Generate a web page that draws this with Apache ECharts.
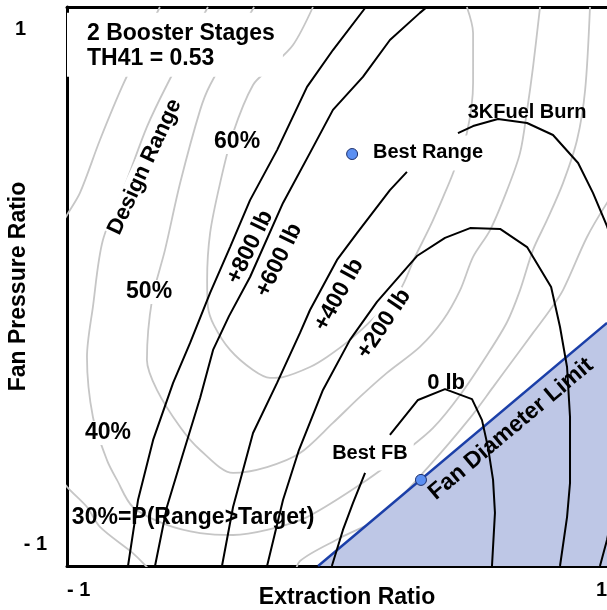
<!DOCTYPE html>
<html><head><meta charset="utf-8">
<script src="https://cdn.jsdelivr.net/npm/echarts@6/dist/echarts.min.js"></script>
<style>html,body{margin:0;padding:0;background:#fff}#c{width:607px;height:610px}</style>
</head><body><div id="c"></div>
<script>
// ---------- axis ticks ----------
const xTickLabels = {'-1': '- 1', '1': '1'};
const yTickLabels = {'-1': '{bot|- 1}', '1': '{top|1}'};

// ---------- fuel burn contours (black) ----------
const fuel800X = [-0.774,-0.737,-0.681,-0.607,-0.544,-0.470,-0.396,-0.322,-0.222,-0.111,-0.015,0.107];
const fuel800Y = [-1,-0.764,-0.549,-0.345,-0.202,-0.023,0.141,0.309,0.488,0.714,0.846,1];
const fuel600X = [-0.674,-0.630,-0.574,-0.507,-0.459,-0.400,-0.322,-0.200,-0.100,-0.015,0.096,0.196,0.307,0.333];
const fuel600Y = [-1,-0.789,-0.610,-0.399,-0.227,-0.106,0.034,0.299,0.478,0.632,0.750,0.882,0.979,1];
const fuel400aX = [-0.426,-0.385,-0.311,-0.222,-0.137,-0.100,0,0.074,0.196,0.259];
const fuel400aY = [-1,-0.789,-0.524,-0.345,-0.166,-0.084,0.095,0.191,0.345,0.410];
const fuel400bX = [0.448,0.504,0.596,0.704,0.800,0.893,0.948,1.0,1.037,1.067,1.056,1.030,1.0,0.974];
const fuel400bY = [0.549,0.574,0.599,0.585,0.542,0.442,0.335,0.216,0.113,-0.156,-0.478,-0.764,-0.907,-1];
const fuel200X = [-0.259,-0.200,-0.141,-0.052,0.048,0.148,0.296,0.400,0.493,0.604,0.704,0.793,0.826,0.852,0.863,0.863,0.852,0.826];
const fuel200Y = [-1,-0.764,-0.585,-0.370,-0.191,-0.055,0.109,0.174,0.209,0.206,0.141,-0.002,-0.145,-0.288,-0.467,-0.703,-0.825,-1];
const fuel0aX = [-0.019,0.022,0.059,0.104];
const fuel0aY = [-1,-0.871,-0.775,-0.667];
const fuel0bX = [0.196,0.300,0.400,0.500,0.537,0.559,0.578,0.585,0.574];
const fuel0bY = [-0.531,-0.406,-0.367,-0.403,-0.478,-0.574,-0.692,-0.810,-1];

// ---------- P(Range>Target) contours (gray) ----------
const p30aX = [-0.656,-0.793,-0.878,-0.952,-1,-1.044];
const p30aY = [1.0,0.721,0.524,0.335,0.256,0.177];
const p30bX = [-1.044,-1,-0.926,-0.878,-0.756,-0.704,-0.674];
const p30bY = [-0.657,-0.717,-0.789,-0.860,-0.954,-1.004,-1.036];
const p30cX = [-0.156,-0.137,0.011,0.159,0.344,0.493,0.578,0.652,0.726,0.789,0.837,0.926,1.0,1.048];
const p30cY = [-1.036,-0.982,-0.900,-0.825,-0.639,-0.470,-0.360,-0.263,-0.166,-0.084,-0.013,0.177,0.299,0.363];
const p40X = [-0.478,-0.630,-0.704,-0.778,-0.867,-0.904,-0.926,-0.904,-0.852,-0.815,-0.756,-0.630,-0.507,-0.385,-0.259,-0.111,0.111,0.259,0.356,0.456,0.556,0.630,0.678,0.726,0.778,0.837,0.889,0.919,0.937];
const p40Y = [1.0,0.721,0.571,0.381,0.166,-0.073,-0.252,-0.467,-0.621,-0.692,-0.789,-0.853,-0.882,-0.889,-0.871,-0.825,-0.692,-0.585,-0.506,-0.388,-0.245,-0.127,-0.013,0.131,0.238,0.370,0.524,0.703,1.0];
const p50X = [-0.307,-0.470,-0.507,-0.581,-0.637,-0.685,-0.704,-0.667,-0.581,-0.507,-0.385,-0.259,-0.137,-0.015,0.085,0.185,0.307,0.393,0.456,0.504,0.567,0.630,0.678,0.704,0.726,0.752];
const p50Y = [1.0,0.721,0.631,0.370,0.131,-0.048,-0.263,-0.370,-0.503,-0.585,-0.667,-0.646,-0.596,-0.488,-0.395,-0.309,-0.216,-0.120,-0.013,0.106,0.202,0.345,0.478,0.631,0.785,1.0];
const p60X = [-0.089,-0.163,-0.248,-0.311,-0.385,-0.433,-0.470,-0.481,-0.478,-0.456,-0.396,-0.311,-0.248,-0.200,-0.100,-0.037,0.048,0.141,0.233,0.289,0.344,0.393,0.430,0.481,0.504,0.504,0.481];
const p60Y = [1.0,0.864,0.782,0.721,0.549,0.370,0.191,0.023,-0.073,-0.138,-0.227,-0.299,-0.327,-0.324,-0.288,-0.252,-0.191,-0.109,-0.013,0.106,0.213,0.320,0.406,0.549,0.728,0.907,1.0];

// ---------- fan diameter limit ----------
const limitX = [-0.07, 1];
const limitY = [-1, -0.13];

// ---------- optimum points ----------
const bestNames = ['Best Range', 'Best FB'];
const bestX = [0.056, 0.311];
const bestY = [0.474, -0.692];

// ---------- annotations ----------
const annotations = [
  {text: '2 Booster Stages\nTH41 = 0.53', x: -1, y: 0.979, rotate: 0, size: 23, bg: true, align: 'left', vAlign: 'top', padding: [8, 8, 6, 20], lineHeight: 25},
  {text: 'Design Range', x: -0.712, y: 0.428, rotate: 65, size: 22, bg: true},
  {text: '60%', x: -0.370, y: 0.517, rotate: 0, size: 23, bg: true},
  {text: '50%', x: -0.696, y: -0.020, rotate: 0, size: 23, bg: true},
  {text: '40%', x: -0.848, y: -0.524, rotate: 0, size: 23, bg: true},
  {text: '30%=P(Range>Target)', x: -0.533, y: -0.828, rotate: 0, size: 23, bg: false},
  {text: '+800 lb', x: -0.322, y: 0.141, rotate: 64, size: 23, bg: false},
  {text: '+600 lb', x: -0.215, y: 0.094, rotate: 64, size: 23, bg: false},
  {text: '+400 lb', x: 0.007, y: -0.030, rotate: 61, size: 23, bg: false},
  {text: '+200 lb', x: 0.174, y: -0.134, rotate: 56, size: 23, bg: true},
  {text: '0 lb', x: 0.404, y: -0.345, rotate: 0, size: 22, bg: false},
  {text: '3KFuel Burn', x: 0.704, y: 0.624, rotate: 0, size: 20, bg: false},
  {text: 'Best Range', x: 0.337, y: 0.478, rotate: 0, size: 20, bg: true, padding: [7, 4]},
  {text: 'Best FB', x: 0.122, y: -0.599, rotate: 0, size: 20, bg: true, padding: [6, 6]},
  {text: 'Fan Diameter Limit', x: 0.644, y: -0.510, rotate: 40, size: 23, bg: false}
];

const FONT = "'Liberation Sans', Arial, Helvetica, sans-serif";
const zip = (xs, ys) => xs.map((x, i) => [x, ys[i]]);

function contour(name, xs, ys, color, z, smooth, width) {
  return {
    name: name, type: 'line', data: zip(xs, ys), z: z,
    symbol: 'none', showSymbol: false, smooth: smooth, silent: true,
    lineStyle: {color: color, width: width},
    emphasis: {disabled: true}, clip: true
  };
}

const GRAY = '#c6c6c6';
const series = [
  contour('30% a', p30aX, p30aY, GRAY, 1, 0.3, 1.8),
  contour('30% b', p30bX, p30bY, GRAY, 1, 0.3, 1.8),
  contour('30% c', p30cX, p30cY, GRAY, 1, 0.3, 1.8),
  contour('40%', p40X, p40Y, GRAY, 1, 0.3, 1.8),
  contour('50%', p50X, p50Y, GRAY, 1, 0.3, 1.8),
  contour('60%', p60X, p60Y, GRAY, 1, 0.3, 1.8),
  {
    name: 'Fan Diameter Limit', type: 'line', data: zip(limitX, limitY), z: 2,
    symbol: 'none', silent: true,
    lineStyle: {color: '#1b3fa8', width: 2.5},
    areaStyle: {color: '#bec7e6', opacity: 1, origin: 'start'},
    emphasis: {disabled: true}
  },
  {
    name: 'annotations', type: 'scatter', z: 3, silent: true,
    symbolSize: 1, itemStyle: {color: 'rgba(0,0,0,0)', opacity: 1},
    emphasis: {disabled: true},
    data: annotations.map(a => ({
      value: [a.x, a.y],
      label: {
        show: true, position: 'inside', formatter: a.text,
        rotate: a.rotate, fontSize: a.size, fontWeight: 'bold', fontFamily: FONT,
        color: '#000', opacity: 1,
        align: a.align || 'center', verticalAlign: a.vAlign || 'middle',
        lineHeight: a.lineHeight || Math.round(a.size * 1.05),
        backgroundColor: a.bg ? '#ffffff' : 'transparent',
        padding: a.padding || [0, 1]
      }
    }))
  },
  contour('+800 lb', fuel800X, fuel800Y, '#000', 4, false, 2),
  contour('+600 lb', fuel600X, fuel600Y, '#000', 4, false, 2),
  contour('+400 lb', fuel400aX, fuel400aY, '#000', 4, false, 2),
  contour('+400 lb b', fuel400bX, fuel400bY, '#000', 4, false, 2),
  contour('+200 lb', fuel200X, fuel200Y, '#000', 4, false, 2),
  contour('0 lb a', fuel0aX, fuel0aY, '#000', 4, false, 2),
  contour('0 lb b', fuel0bX, fuel0bY, '#000', 4, false, 2),
  {
    name: 'best', type: 'scatter', z: 5, silent: true,
    data: bestNames.map((n, i) => ({name: n, value: [bestX[i], bestY[i]]})),
    symbol: 'circle', symbolSize: 11,
    itemStyle: {color: '#5b8ff2', borderColor: '#1d2f6b', borderWidth: 1, opacity: 1},
    emphasis: {disabled: true}
  }
];

const labelStyle = {fontSize: 20, fontWeight: 'bold', color: '#000', fontFamily: FONT};
const option = {
  animation: false,
  backgroundColor: '#fff',
  grid: {left: 67, right: 0, top: 7, bottom: 44, containLabel: false, outerBoundsMode: 'none'},
  xAxis: [{
    type: 'value', min: -1, max: 1, interval: 1,
    name: 'Extraction Ratio', nameLocation: 'middle', nameGap: 20, nameMoveOverlap: false,
    nameTextStyle: {fontSize: 23, fontWeight: 'bold', color: '#000', fontFamily: FONT, padding: [0, 0, 0, 20]},
    axisLine: {show: true, onZero: false, lineStyle: {color: '#000', width: 3}},
    axisTick: {show: false}, splitLine: {show: false},
    axisLabel: Object.assign({
      formatter: v => xTickLabels[String(v)] || '',
      margin: 14, alignMinLabel: 'left', alignMaxLabel: 'right'
    }, labelStyle)
  }, {
    type: 'value', min: -1, max: 1, position: 'top',
    axisLine: {show: true, onZero: false, lineStyle: {color: '#000', width: 3}},
    axisTick: {show: false}, splitLine: {show: false}, axisLabel: {show: false}
  }],
  yAxis: {
    type: 'value', min: -1, max: 1, interval: 1,
    name: 'Fan Pressure Ratio', nameLocation: 'middle', nameGap: 37, nameMoveOverlap: false,
    nameTextStyle: {fontSize: 23, fontWeight: 'bold', color: '#000', fontFamily: FONT},
    axisLine: {show: true, onZero: false, lineStyle: {color: '#000', width: 3}},
    axisTick: {show: false}, splitLine: {show: false},
    axisLabel: Object.assign({
      formatter: v => yTickLabels[String(v)] || '',
      margin: 20, align: 'right',
      verticalAlignMinLabel: 'bottom', verticalAlignMaxLabel: 'top',
      padding: [12, 0, 12, 0],
      rich: {
        top: {fontSize: 20, fontWeight: 'bold', color: '#000', fontFamily: FONT, padding: [0, 21, 0, 0]},
        bot: {fontSize: 20, fontWeight: 'bold', color: '#000', fontFamily: FONT}
      }
    }, labelStyle)
  },
  series: series
};

const chart = echarts.init(document.getElementById('c'), null, {renderer: 'canvas'});
chart.setOption(option);
</script></body></html>
